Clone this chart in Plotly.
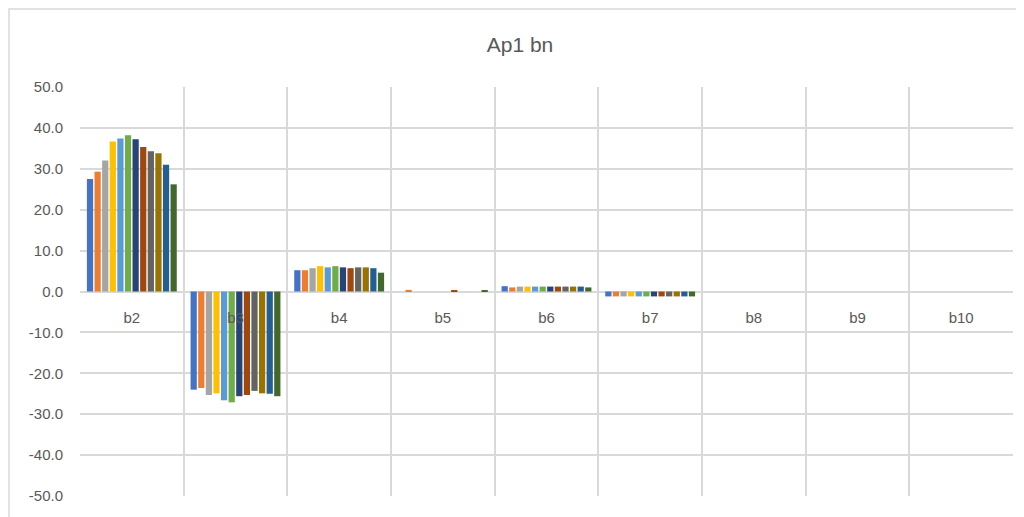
import plotly.graph_objects as go

categories = ["b2", "b3", "b4", "b5", "b6", "b7", "b8", "b9", "b10"]

# values per series (12 series), one value per category
series_values = [
    [27.5, -24.0, 5.2, 0.0, 1.3, -1.2, 0.0, 0.0, 0.0],
    [29.3, -23.6, 5.2, 0.4, 1.0, -1.2, 0.0, 0.0, 0.0],
    [32.0, -25.3, 5.7, 0.0, 1.2, -1.2, 0.0, 0.0, 0.0],
    [36.7, -24.9, 6.2, 0.0, 1.2, -1.2, 0.0, 0.0, 0.0],
    [37.4, -26.6, 5.9, 0.0, 1.2, -1.2, 0.0, 0.0, 0.0],
    [38.2, -27.1, 6.2, 0.0, 1.2, -1.2, 0.0, 0.0, 0.0],
    [37.2, -25.6, 5.9, 0.0, 1.2, -1.2, 0.0, 0.0, 0.0],
    [35.3, -25.3, 5.7, 0.3, 1.2, -1.2, 0.0, 0.0, 0.0],
    [34.3, -24.3, 5.9, 0.0, 1.2, -1.2, 0.0, 0.0, 0.0],
    [33.8, -24.9, 5.9, 0.0, 1.2, -1.2, 0.0, 0.0, 0.0],
    [31.0, -25.0, 5.7, 0.0, 1.2, -1.2, 0.0, 0.0, 0.0],
    [26.2, -25.6, 4.6, 0.3, 1.0, -1.2, 0.0, 0.0, 0.0],
]

colors = ["#4472C4", "#ED7D31", "#A5A5A5", "#FFC000", "#5B9BD5", "#70AD47",
          "#264478", "#9E480E", "#636363", "#997300", "#255E91", "#43682B"]

y_ticks = [-50, -40, -30, -20, -10, 0, 10, 20, 30, 40, 50]
y_tick_labels = [f"{v:.1f}" for v in y_ticks]

fig = go.Figure()
for i, vals in enumerate(series_values):
    fig.add_trace(go.Bar(
        x=categories, y=vals, name=f"Series{i+1}",
        marker=dict(color=colors[i], line=dict(width=0)),
    ))

W, H = 1016, 509
L, T, PW, PH = 72, 79, 933, 409
fontfam = "Liberation Sans, DejaVu Sans, sans-serif"
fig.update_layout(
    width=W, height=H,
    margin=dict(l=L, r=W - L - PW, t=T, b=H - T - PH),
    paper_bgcolor="white", plot_bgcolor="white",
    showlegend=False,
    barmode="group", bargap=0.12, bargroupgap=0.18,
    title=dict(text="Ap1 bn", x=(520 - 8) / W, xref="container",
               y=1 - (45 - 8) / H, yref="container",
               xanchor="center", yanchor="middle",
               font=dict(family=fontfam, size=21, color="#595959")),
    font=dict(family=fontfam, color="#595959"),
    xaxis=dict(
        type="category", tickson="boundaries", showgrid=True,
        gridcolor="#D9D9D9", gridwidth=1.5, ticks="", showline=False,
        anchor="free", position=0.5, ticklabelstandoff=15,
        tickfont=dict(size=15, color="#595959"), zeroline=False,
    ),
    yaxis=dict(
        range=[-50, 50], tickvals=y_ticks, ticktext=y_tick_labels,
        showgrid=True, gridcolor="#D9D9D9", gridwidth=1.5,
        zeroline=True, zerolinecolor="#D9D9D9", zerolinewidth=1.5,
        tickfont=dict(size=15, color="#595959"), ticks="", showline=False,
        ticklabelstandoff=16,
    ),
)

# outer chart border (light gray) drawn in paper coordinates
fig.add_shape(type="rect", xref="paper", yref="paper",
              x0=(1 - L) / PW, x1=(W + 20 - L) / PW,
              y0=(T + PH - H - 20) / PH, y1=(T + PH - 1) / PH,
              line=dict(color="#D9D9D9", width=1.5), layer="below")

fig.write_html("out.html")
